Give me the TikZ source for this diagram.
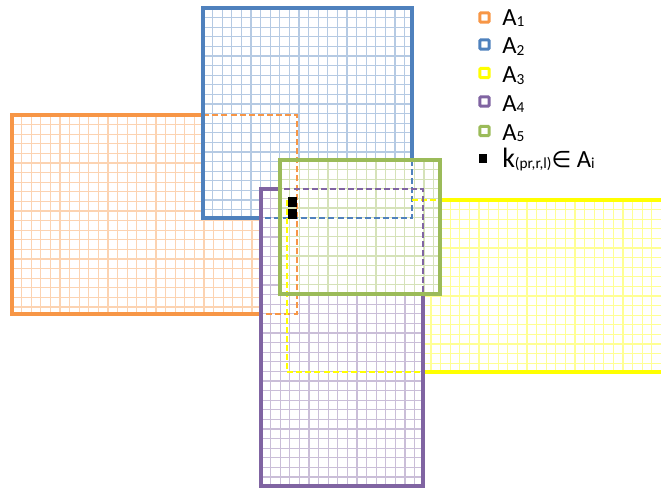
\documentclass[tikz,border=0pt]{standalone}
\usepackage{fontspec}
\setmainfont{Carlito}
\newfontfamily\symfont{DejaVu Sans}
\definecolor{aorange}{HTML}{F79646}
\definecolor{ablue}{HTML}{4F81BD}
\definecolor{ayellow}{HTML}{FFFF00}
\definecolor{apurple}{HTML}{8064A2}
\definecolor{agreen}{HTML}{9BBB59}
% white ground plus a fine square grid inside a rectangle: colour, x1, y1, x2, y2
\newcommand\gridfill[5]{%
  \fill[white] (#2,#3) rectangle (#4,#5);
  \pgfmathtruncatemacro\gnx{((#4)-(#2))/9.6-0.2}%
  \pgfmathtruncatemacro\gny{((#5)-(#3))/9.6-0.2}%
  \foreach \i in {1,...,\gnx} \draw[gridline=#1] ({#2+9.6*\i},#3) -- ({#2+9.6*\i},#5);
  \foreach \i in {1,...,\gny} \draw[gridline=#1] (#2,{#3+9.6*\i}) -- (#4,{#3+9.6*\i});
}
\newcommand\lsub[1]{{\fontsize{11.5}{11.5}\selectfont\raisebox{-0.8pt}{#1}}}
\begin{document}
\begin{tikzpicture}[x=0.75pt,y=-0.75pt,
  frame/.style={draw=#1, line width=3pt},
  hidden/.style={draw=#1, line width=1.6pt, dash pattern=on 4.5pt off 2.3pt},
  gridline/.style={draw=#1!42, line width=0.95pt},
  marker/.style={draw=#1, line width=2.2pt, fill=white, rectangle, inner sep=0pt,
    minimum size=6.9pt, rounded corners=0.6pt},
  kmark/.style={fill=black, rectangle, inner sep=0pt},
  legtext/.style={anchor=base west, inner sep=0pt, font=\fontsize{18.5}{18.5}\selectfont}]
\useasboundingbox (0,0) rectangle (661,492);
\clip (0,0) rectangle (661,492);

% A1 (orange)
\gridfill{aorange}{12}{115}{297}{314}
\draw[frame=aorange] (12,115) rectangle (297,314);

% A2 (blue)
\gridfill{ablue}{203}{8}{412}{218}
\begin{scope}
  \clip (203,8) rectangle (412,218);
  \draw[hidden=aorange] (12,115) rectangle (297,314);
\end{scope}
\draw[frame=ablue] (203,8) rectangle (412,218);

% A3 (yellow)
\gridfill{ayellow}{287}{200}{680}{372}
\begin{scope}
  \clip (287,200) rectangle (680,372);
  \draw[hidden=aorange] (12,115) rectangle (297,314);
  \draw[hidden=ablue] (203,8) rectangle (412,218);
\end{scope}
\draw[frame=ayellow] (287,200) rectangle (680,372);

% A4 (purple)
\gridfill{apurple}{261}{189}{423}{486}
\begin{scope}
  \clip (261,189) rectangle (423,486);
  \draw[hidden=aorange] (12,115) rectangle (297,314);
  \draw[hidden=ablue] (203,8) rectangle (412,218);
  \draw[hidden=ayellow] (412,200) -- (680,200) (287,200) -- (287,372) -- (680,372);
\end{scope}
\draw[frame=apurple] (261,189) rectangle (423,486);

% A5 (green)
\gridfill{agreen}{280}{160}{440}{294}
\begin{scope}
  \clip (280,160) rectangle (440,294);
  \draw[hidden=aorange] (12,115) rectangle (297,314);
  \draw[hidden=ablue] (203,8) rectangle (412,218);
  \draw[hidden=ayellow] (412,200) -- (680,200) (287,200) -- (287,372) -- (680,372);
  \draw[hidden=apurple] (261,189) rectangle (423,486);
\end{scope}
\draw[frame=agreen] (280,160) rectangle (440,294);

% the two marked cells
\node[kmark, minimum width=6.9pt, minimum height=7.5pt] (k1) at (292.3,202.3) {};
\node[kmark, minimum width=6.9pt, minimum height=7.5pt] (k2) at (292.3,214.3) {};

% legend
\node[marker=aorange] (m1) at (484.5,17.5) {};
\node[marker=ablue]   (m2) at (484.5,44.5) {};
\node[marker=ayellow] (m3) at (484.5,73) {};
\node[marker=apurple] (m4) at (484.5,101.5) {};
\node[marker=agreen]  (m5) at (484.5,131) {};
\node[kmark, minimum size=6pt] (m6) at (483,158.5) {};
\node[legtext] (t1) at (502,25.5) {A\lsub{1}};
\node[legtext] (t2) at (502,54) {A\lsub{2}};
\node[legtext] (t3) at (502,83) {A\lsub{3}};
\node[legtext] (t4) at (502,111.5) {A\lsub{4}};
\node[legtext] (t5) at (502,140.5) {A\lsub{5}};
\node[legtext] (t6) at (502,167) {{\fontsize{21}{21}\selectfont k}\lsub{(pr,r,l)}{\symfont\fontsize{17}{17}\selectfont ∈} A\lsub{i}};
\end{tikzpicture}
\end{document}
